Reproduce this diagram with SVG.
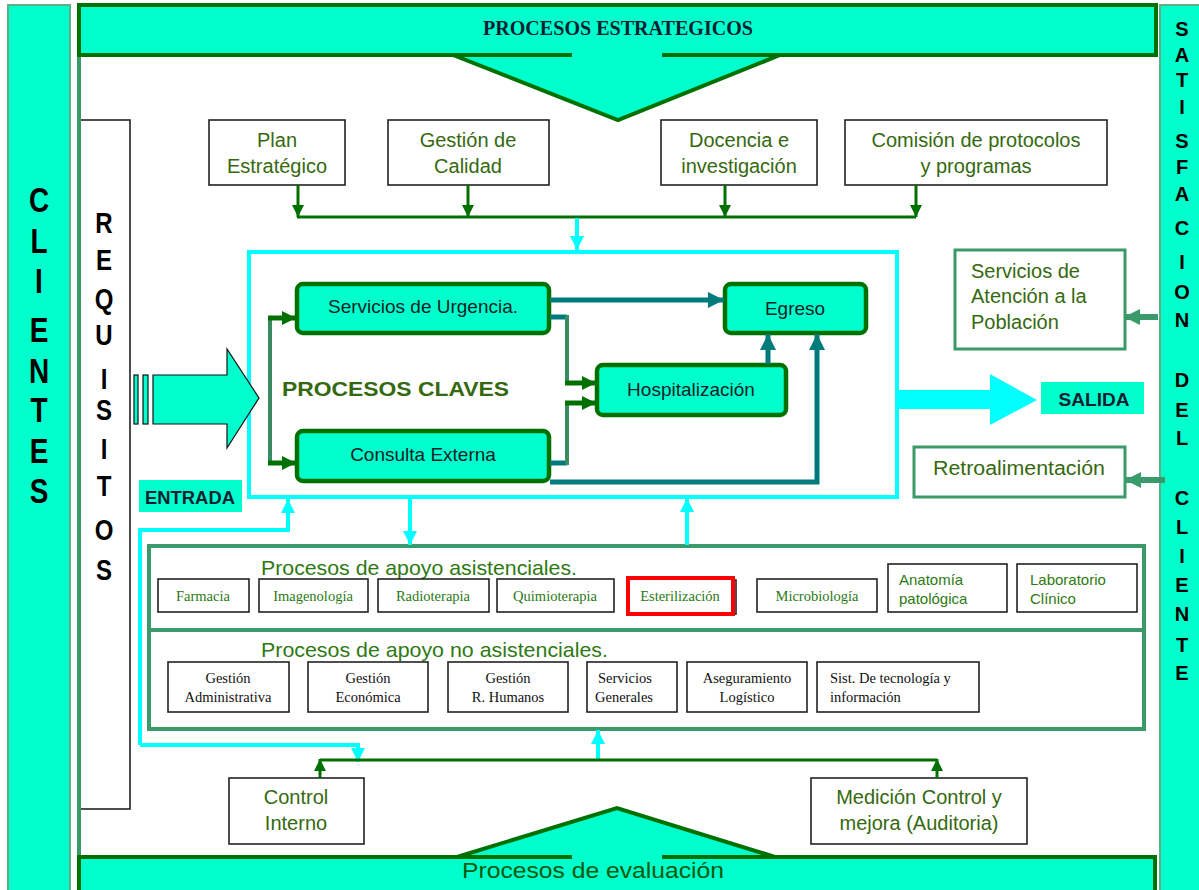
<svg xmlns="http://www.w3.org/2000/svg" width="1199" height="890" viewBox="0 0 1199 890">
  <defs>
    <style>
      .band { fill: #00ffcc; stroke: #007000; stroke-width: 4; }
      .side { fill: #00ffcc; stroke: #5fae86; stroke-width: 2; }
      .box { fill: #ffffff; stroke: #222222; stroke-width: 1.6; }
      .gbox { fill: #ffffff; stroke: #3a9a6a; stroke-width: 3; }
      .key { fill: #00ffcc; stroke: #007000; stroke-width: 4.5; }
      .lbl { font-family: "Liberation Sans", Arial, sans-serif; fill: #35690f; font-size: 20px; text-anchor: middle; }
      .keyt { font-family: "Liberation Sans", Arial, sans-serif; fill: #0d1f26; font-size: 19px; text-anchor: middle; }
      .big { font-family: "Liberation Sans", Arial, sans-serif; font-weight: bold; fill: #000000; text-anchor: middle; }
      .ser { font-family: "Liberation Serif", "Times New Roman", serif; font-size: 14.5px; text-anchor: middle; }
      .serg { fill: #2a7a14; }
      .serk { fill: #111111; }
      .start { text-anchor: start; }
      .hdr { font-family: "Liberation Sans", Arial, sans-serif; fill: #2e7a12; font-size: 21px; }
      .small { font-family: "Liberation Sans", Arial, sans-serif; fill: #2e7a12; font-size: 15px; }
      .cg { fill: none; stroke: #007000; stroke-width: 3; }
      .cgg { fill: none; stroke: #3a8a62; stroke-width: 4; }
      .cdg { fill: none; stroke: #007000; stroke-width: 5; }
      .ct { fill: none; stroke: #007b7b; stroke-width: 5; }
      .cc { fill: none; stroke: #00ffff; stroke-width: 4; }
      .cf { fill: none; stroke: #3a9a6a; stroke-width: 6; }
    </style>
    <marker id="mG" viewBox="0 0 10 10" refX="10" refY="5" markerWidth="14" markerHeight="12" markerUnits="userSpaceOnUse" orient="auto">
      <path d="M0,0 L10,5 L0,10 z" fill="#007000"/>
    </marker>
    <marker id="mDG" viewBox="0 0 10 10" refX="10" refY="5" markerWidth="14" markerHeight="16" markerUnits="userSpaceOnUse" orient="auto">
      <path d="M0,0 L10,5 L0,10 z" fill="#007000"/>
    </marker>
    <marker id="mT" viewBox="0 0 10 10" refX="10" refY="5" markerWidth="16" markerHeight="16" markerUnits="userSpaceOnUse" orient="auto">
      <path d="M0,0 L10,5 L0,10 z" fill="#007b7b"/>
    </marker>
    <marker id="mC" viewBox="0 0 10 10" refX="10" refY="5" markerWidth="16" markerHeight="14" markerUnits="userSpaceOnUse" orient="auto">
      <path d="M0,0 L10,5 L0,10 z" fill="#00ffff"/>
    </marker>
    <marker id="mF" viewBox="0 0 10 10" refX="10" refY="5" markerWidth="16" markerHeight="18" markerUnits="userSpaceOnUse" orient="auto">
      <path d="M0,0 L10,5 L0,10 z" fill="#3a9a6a"/>
    </marker>
  </defs>

  <rect width="1199" height="890" fill="#ffffff"/>

  <!-- client side bars -->
  <g id="clientes">
    <rect class="side" x="8" y="5" width="62" height="890"/>
    <g transform="scale(1,1.25)">
      <text class="big" font-size="28" x="39" y="169.6">C</text>
      <text class="big" font-size="28" x="39" y="202.4">L</text>
      <text class="big" font-size="28" x="39" y="234.4">I</text>
      <text class="big" font-size="28" x="39" y="273.6">E</text>
      <text class="big" font-size="28" x="39" y="306.4">N</text>
      <text class="big" font-size="28" x="39" y="337.6">T</text>
      <text class="big" font-size="28" x="39" y="370.4">E</text>
      <text class="big" font-size="28" x="39" y="402.4">S</text>
    </g>
  </g>

  <g id="satisfaccion">
    <rect class="side" x="1160" y="5" width="45" height="890"/>
    <g font-size="20">
      <text class="big" x="1182" y="36">S</text>
      <text class="big" x="1182" y="62">A</text>
      <text class="big" x="1182" y="87">T</text>
      <text class="big" x="1182" y="114">I</text>
      <text class="big" x="1182" y="148">S</text>
      <text class="big" x="1182" y="174">F</text>
      <text class="big" x="1182" y="201">A</text>
      <text class="big" x="1182" y="235">C</text>
      <text class="big" x="1182" y="269">I</text>
      <text class="big" x="1182" y="299">O</text>
      <text class="big" x="1182" y="327">N</text>
      <text class="big" x="1182" y="387">D</text>
      <text class="big" x="1182" y="417">E</text>
      <text class="big" x="1182" y="445">L</text>
      <text class="big" x="1182" y="505">C</text>
      <text class="big" x="1182" y="534">L</text>
      <text class="big" x="1182" y="563">I</text>
      <text class="big" x="1182" y="592">E</text>
      <text class="big" x="1182" y="621">N</text>
      <text class="big" x="1182" y="652">T</text>
      <text class="big" x="1182" y="680">E</text>
    </g>
  </g>

  <!-- outer frame left edge -->
  <line x1="79" y1="30" x2="79" y2="890" stroke="#3a9a6a" stroke-width="4"/>

  <!-- strategic band with down arrow -->
  <g id="estrategicos">
    <rect class="band" x="79" y="5" width="1077" height="50"/>
    <polygon class="band" points="453,55 618,120 780,55"/>
    <rect x="572" y="50" width="90" height="10" fill="#00ffcc"/>
    <text x="618" y="35" font-family="'Liberation Serif', 'Times New Roman', serif" font-weight="bold" font-size="21" fill="#0d1f33" text-anchor="middle" textLength="270" lengthAdjust="spacingAndGlyphs">PROCESOS ESTRATEGICOS</text>
  </g>

  <!-- evaluation band with up arrow -->
  <g id="evaluacion">
    <rect class="band" x="79" y="857" width="1076" height="40"/>
    <polygon class="band" points="457,857 617,808 775,857"/>
    <rect x="572" y="852" width="90" height="10" fill="#00ffcc"/>
    <text x="593" y="878" font-family="'Liberation Sans', Arial, sans-serif" font-size="22" fill="#0a5a0a" text-anchor="middle" textLength="262" lengthAdjust="spacingAndGlyphs">Procesos de evaluación</text>
  </g>

  <!-- requisitos column -->
  <g id="requisitos">
    <rect x="79" y="120" width="51" height="689" fill="#ffffff" stroke="#222222" stroke-width="1.6"/>
    <line x1="79" y1="118" x2="79" y2="812" stroke="#3a9a6a" stroke-width="4"/>
    <g transform="scale(1,1.25)">
      <text class="big" font-size="24" x="104" y="186.4">R</text>
      <text class="big" font-size="24" x="104" y="216">E</text>
      <text class="big" font-size="24" x="104" y="247.2">Q</text>
      <text class="big" font-size="24" x="104" y="276">U</text>
      <text class="big" font-size="24" x="104" y="311.2">I</text>
      <text class="big" font-size="24" x="104" y="336">S</text>
      <text class="big" font-size="24" x="104" y="367.2">I</text>
      <text class="big" font-size="24" x="104" y="396.8">T</text>
      <text class="big" font-size="24" x="104" y="432">O</text>
      <text class="big" font-size="24" x="104" y="464">S</text>
    </g>
  </g>

  <!-- strategic processes -->
  <g id="plan">
    <rect class="box" x="209" y="120" width="136" height="65"/>
    <text class="lbl" x="277" y="147">Plan</text>
    <text class="lbl" x="277" y="173">Estratégico</text>
  </g>
  <g id="calidad">
    <rect class="box" x="388" y="120" width="161" height="65"/>
    <text class="lbl" x="468" y="147">Gestión de</text>
    <text class="lbl" x="468" y="173">Calidad</text>
  </g>
  <g id="docencia">
    <rect class="box" x="661" y="120" width="156" height="65"/>
    <text class="lbl" x="739" y="147">Docencia e</text>
    <text class="lbl" x="739" y="173">investigación</text>
  </g>
  <g id="comision">
    <rect class="box" x="845" y="120" width="262" height="65"/>
    <text class="lbl" x="976" y="147">Comisión de protocolos</text>
    <text class="lbl" x="976" y="173">y programas</text>
  </g>

  <!-- key processes frame -->
  <g id="procesos-claves">
    <rect x="249" y="252" width="648" height="245" fill="none" stroke="#00ffff" stroke-width="4"/>
    <text x="282" y="396" font-family="'Liberation Sans', Arial, sans-serif" font-weight="bold" font-size="21" fill="#35690f" textLength="227" lengthAdjust="spacingAndGlyphs">PROCESOS CLAVES</text>
  </g>

  <g id="urgencia">
    <rect class="key" x="297" y="284" width="252" height="49" rx="6"/>
    <text class="keyt" x="423" y="313">Servicios de Urgencia.</text>
  </g>
  <g id="consulta">
    <rect class="key" x="297" y="431" width="252" height="50" rx="6"/>
    <text class="keyt" x="423" y="461">Consulta Externa</text>
  </g>
  <g id="hospitalizacion">
    <rect class="key" x="597" y="365" width="189" height="50" rx="6"/>
    <text class="keyt" x="691" y="396">Hospitalización</text>
  </g>
  <g id="egreso">
    <rect class="key" x="725" y="284" width="141" height="49" rx="6"/>
    <text class="keyt" x="795" y="315">Egreso</text>
  </g>

  <!-- entry and exit -->
  <g id="entrada">
    <rect x="134" y="375" width="4" height="49" fill="#00ffcc" stroke="#111111" stroke-width="1.2"/>
    <rect x="143" y="375" width="5" height="49" fill="#00ffcc" stroke="#111111" stroke-width="1.2"/>
    <polygon points="153,375 227,375 227,349 259,398 227,448 227,424 153,424" fill="#00ffcc" stroke="#111111" stroke-width="1.2"/>
    <rect x="139" y="480" width="103" height="32" fill="#00ffcc"/>
    <text x="190" y="504" font-family="'Liberation Sans', Arial, sans-serif" font-weight="bold" font-size="18" fill="#0d1f33" text-anchor="middle" textLength="90" lengthAdjust="spacingAndGlyphs">ENTRADA</text>
  </g>
  <g id="salida">
    <polygon points="897,390 990,390 990,374 1037,400 990,425 990,409 897,409" fill="#00ffff"/>
    <rect x="1041" y="382" width="103" height="32" fill="#00ffcc"/>
    <text x="1094" y="406" font-family="'Liberation Sans', Arial, sans-serif" font-weight="bold" font-size="19" fill="#0d1f33" text-anchor="middle" textLength="71" lengthAdjust="spacingAndGlyphs">SALIDA</text>
  </g>

  <!-- feedback boxes -->
  <g id="atencion">
    <rect class="gbox" x="955" y="250" width="170" height="99"/>
    <text class="lbl start" x="971" y="278" font-size="19">Servicios de</text>
    <text class="lbl start" x="971" y="303" font-size="19">Atención a la</text>
    <text class="lbl start" x="971" y="329" font-size="19">Población</text>
  </g>
  <g id="retroalimentacion">
    <rect class="gbox" x="914" y="447" width="211" height="50"/>
    <text class="lbl" x="1019" y="475" font-size="19" textLength="172" lengthAdjust="spacingAndGlyphs">Retroalimentación</text>
  </g>

  <!-- support processes -->
  <g id="apoyo">
    <rect x="149" y="546" width="995" height="183" fill="none" stroke="#3a9a6a" stroke-width="4"/>
    <line x1="149" y1="630" x2="1144" y2="630" stroke="#3a9a6a" stroke-width="4"/>
    <text class="hdr" x="261" y="575" textLength="316" lengthAdjust="spacingAndGlyphs">Procesos de apoyo asistenciales.</text>
    <text class="hdr" x="261" y="657" textLength="347" lengthAdjust="spacingAndGlyphs">Procesos de apoyo no asistenciales.</text>
  </g>

  <g id="farmacia">
    <rect class="box" x="158" y="579" width="91" height="33"/>
    <text class="ser serg" x="203" y="601">Farmacia</text>
  </g>
  <g id="imagenologia">
    <rect class="box" x="259" y="579" width="109" height="33"/>
    <text class="ser serg" x="313" y="601">Imagenología</text>
  </g>
  <g id="radioterapia">
    <rect class="box" x="378" y="579" width="111" height="33"/>
    <text class="ser serg" x="433" y="601">Radioterapia</text>
  </g>
  <g id="quimioterapia">
    <rect class="box" x="497" y="579" width="117" height="33"/>
    <text class="ser serg" x="555" y="601">Quimioterapia</text>
  </g>
  <g id="esterilizacion">
    <rect class="box" x="630" y="580" width="106" height="34"/>
    <rect x="628" y="578" width="105" height="36" fill="#ffffff" stroke="#ff0000" stroke-width="4"/>
    <text class="ser serg" x="680" y="601">Esterilización</text>
  </g>
  <g id="microbiologia">
    <rect class="box" x="757" y="579" width="120" height="33"/>
    <text class="ser serg" x="817" y="601">Microbiología</text>
  </g>
  <g id="anatomia">
    <rect class="box" x="888" y="564" width="119" height="48"/>
    <text class="small" x="899" y="585">Anatomía</text>
    <text class="small" x="899" y="604">patológica</text>
  </g>
  <g id="laboratorio">
    <rect class="box" x="1017" y="564" width="120" height="48"/>
    <text class="small" x="1030" y="585">Laboratorio</text>
    <text class="small" x="1030" y="604">Clínico</text>
  </g>

  <g id="administrativa">
    <rect class="box" x="168" y="662" width="121" height="50"/>
    <text class="ser serk" x="228" y="683">Gestión</text>
    <text class="ser serk" x="228" y="702">Administrativa</text>
  </g>
  <g id="economica">
    <rect class="box" x="308" y="662" width="120" height="50"/>
    <text class="ser serk" x="368" y="683">Gestión</text>
    <text class="ser serk" x="368" y="702">Económica</text>
  </g>
  <g id="humanos">
    <rect class="box" x="448" y="662" width="120" height="50"/>
    <text class="ser serk" x="508" y="683">Gestión</text>
    <text class="ser serk" x="508" y="702">R. Humanos</text>
  </g>
  <g id="generales">
    <rect class="box" x="587" y="662" width="90" height="50"/>
    <text class="ser serk" x="625" y="683">Servicios</text>
    <text class="ser serk" x="624" y="702">Generales</text>
  </g>
  <g id="logistico">
    <rect class="box" x="687" y="662" width="120" height="50"/>
    <text class="ser serk" x="747" y="683">Aseguramiento</text>
    <text class="ser serk" x="747" y="702">Logístico</text>
  </g>
  <g id="tecnologia">
    <rect class="box" x="817" y="662" width="162" height="50"/>
    <text class="ser serk start" x="830" y="683">Sist. De tecnología y</text>
    <text class="ser serk start" x="830" y="702">información</text>
  </g>

  <!-- evaluation processes -->
  <g id="control-interno">
    <rect class="box" x="229" y="778" width="135" height="66"/>
    <text class="lbl" x="296" y="804">Control</text>
    <text class="lbl" x="296" y="830">Interno</text>
  </g>
  <g id="medicion">
    <rect class="box" x="811" y="778" width="216" height="66"/>
    <text class="lbl" x="919" y="804">Medición Control  y</text>
    <text class="lbl" x="919" y="830">mejora (Auditoria)</text>
  </g>

  <!-- connectors -->
  <g id="connectors">
    <!-- strategic collector -->
    <polyline class="cg" points="297,217 916,217"/>
    <line class="cg" x1="298" y1="185" x2="298" y2="217" marker-end="url(#mG)"/>
    <line class="cg" x1="468" y1="185" x2="468" y2="217" marker-end="url(#mG)"/>
    <line class="cg" x1="725" y1="185" x2="725" y2="217" marker-end="url(#mG)"/>
    <line class="cg" x1="916" y1="185" x2="916" y2="217" marker-end="url(#mG)"/>
    <line class="cc" x1="577" y1="218" x2="577" y2="250" marker-end="url(#mC)"/>

    <!-- entry split -->
    <line class="cgg" x1="270" y1="318" x2="270" y2="463"/>
    <line class="cdg" x1="268" y1="318" x2="296" y2="318" marker-end="url(#mDG)"/>
    <line class="cdg" x1="268" y1="463" x2="296" y2="463" marker-end="url(#mDG)"/>

    <!-- key process flows -->
    <line class="ct" x1="550" y1="300" x2="724" y2="300" marker-end="url(#mT)"/>
    <polyline class="ct" points="550,317 567,317"/>
    <polyline class="ct" points="550,463 567,463"/>
    <line class="cgg" x1="567" y1="315" x2="567" y2="385"/>
    <line class="cgg" x1="567" y1="401" x2="567" y2="465"/>
    <line class="cdg" x1="565" y1="383" x2="596" y2="383" marker-end="url(#mDG)"/>
    <line class="cdg" x1="565" y1="403" x2="596" y2="403" marker-end="url(#mDG)"/>
    <line class="ct" x1="768" y1="364" x2="768" y2="334" marker-end="url(#mT)"/>
    <polyline class="ct" points="550,482 817,482 817,334" marker-end="url(#mT)"/>

    <!-- support links -->
    <polyline class="cc" points="140,745 140,530 288,530 288,499" marker-end="url(#mC)"/>
    <polyline class="cc" points="140,745 358,745 358,762" marker-end="url(#mC)"/>
    <line class="cc" x1="410" y1="497" x2="410" y2="545" marker-end="url(#mC)"/>
    <line class="cc" x1="687" y1="545" x2="687" y2="498" marker-end="url(#mC)"/>
    <line class="cc" x1="598" y1="760" x2="598" y2="730" marker-end="url(#mC)"/>

    <!-- evaluation collector -->
    <polyline class="cg" points="320,760 937,760"/>
    <line class="cg" x1="320" y1="778" x2="320" y2="759" marker-end="url(#mG)"/>
    <line class="cg" x1="937" y1="778" x2="937" y2="759" marker-end="url(#mG)"/>

    <!-- client feedback -->
    <line class="cf" x1="1158" y1="317" x2="1124" y2="317" marker-end="url(#mF)"/>
    <line class="cf" x1="1165" y1="480" x2="1125" y2="480" marker-end="url(#mF)"/>
  </g>
</svg>
